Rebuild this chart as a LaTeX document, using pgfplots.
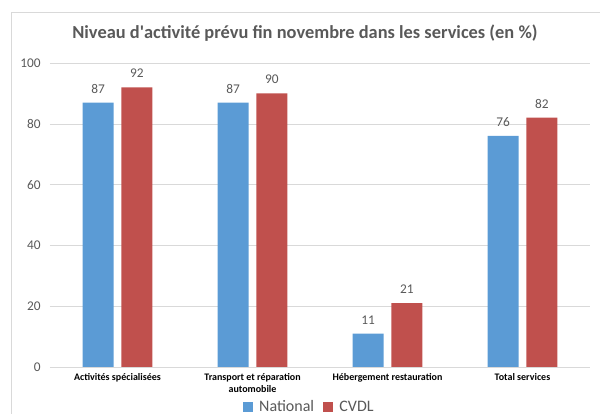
\documentclass[border=0pt]{standalone}
\usepackage{pgfplots}
\pgfplotsset{compat=1.18}
\usepackage{fontspec}
\setmainfont{Carlito}
\definecolor{cblue}{HTML}{5B9BD5}
\definecolor{cred}{HTML}{C0504D}
\definecolor{tgray}{HTML}{595959}
\definecolor{ggray}{HTML}{D9D9D9}
\begin{document}
\begin{tikzpicture}
\useasboundingbox (0,0) rectangle (450pt,310.5pt);
\draw[ggray] (8.25pt,-10pt) -- (8.25pt,301.5pt) -- (460pt,301.5pt);
\node[font=\bfseries\fontsize{13.8}{16}\selectfont, text=tgray] at (228.75pt,285.75pt) {Niveau d\textquotesingle activité prévu fin novembre dans les services (en \%)};
\begin{axis}[
  at={(37.5pt,35.25pt)}, anchor=south west,
  scale only axis, width=405pt, height=228pt,
  xmin=-0.5, xmax=3.5, ymin=0, ymax=100,
  ytick={0,20,...,100},
  xtick={0,1,2,3},
  xticklabels={Activités spécialisées, {Transport et réparation\\automobile}, Hébergement restauration, Total services},
  xticklabel style={font=\bfseries\fontsize{7.5}{9}\selectfont, align=center, text=black, yshift=-1pt},
  yticklabel style={font=\fontsize{10}{11}\selectfont, text=tgray, xshift=-3.5pt},
  /pgf/number format/assume math mode=true,
  axis line style={draw=none},
  major tick length=0pt,
  ymajorgrids, grid style={ggray},
  ybar, bar width=23.25pt,
  nodes near coords,
  every node near coord/.append style={font=\fontsize{10}{11}\selectfont, text=tgray, yshift=3.5pt},
  legend style={at={(0.481,-0.132)}, anchor=center, draw=none, legend columns=2, font=\fontsize{12}{13}\selectfont, text=tgray,
    /tikz/every odd column/.append style={column sep=3pt},
    /tikz/every even column/.append style={column sep=5pt}},
  legend image code/.code={\fill[#1] (0pt,-3.5pt) rectangle (7pt,3.5pt);},
  clip=false,
]
\addplot[fill=cblue, draw=none, bar shift=-14.6pt] coordinates {(0,87) (1,87) (2,11) (3,76)};
\addplot[fill=cred, draw=none, bar shift=14.6pt] coordinates {(0,92) (1,90) (2,21) (3,82)};
\legend{National, CVDL}
\end{axis}
\end{tikzpicture}
\end{document}
